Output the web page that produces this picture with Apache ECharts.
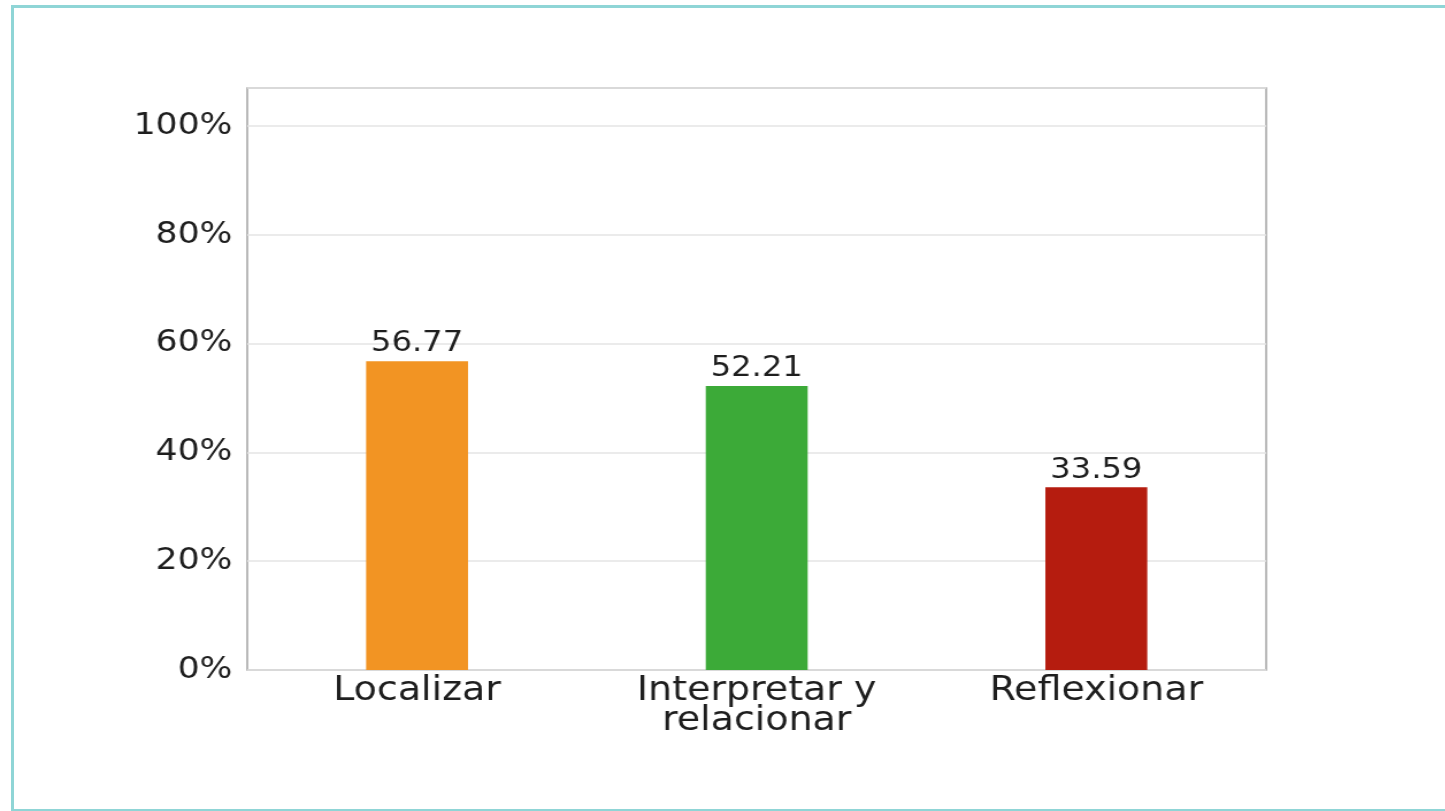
<!DOCTYPE html>
<html>
<head>
<meta charset="utf-8">
<script src="https://cdn.jsdelivr.net/npm/echarts@6/dist/echarts.min.js"></script>
<style>
  html, body { margin: 0; padding: 0; background: #fff; overflow: hidden; }
  #frame {
    position: absolute; left: 11px; top: 5px;
    width: 1434px; height: 807px;
    border: 3px solid #8fd5d6; border-right: none; box-sizing: border-box;
  }
  /* the source picture is stretched sideways, so draw narrower and scale */
  #chart {
    position: absolute; left: 0; top: 0;
    width: 1257px; height: 811px;
    transform: scaleX(1.15); transform-origin: 0 0;
  }
</style>
</head>
<body>
<div id="frame"></div>
<div id="chart"></div>
<script>
const categories = ['Localizar', 'Interpretar y\nrelacionar', 'Reflexionar']
const values = [56.77, 52.21, 33.59]
const barColors = ['#f29423', '#3caa38', '#b51c0f']
const yTicks = [0, 20, 40, 60, 80, 100]

const chart = echarts.init(document.getElementById('chart'))

chart.setOption({
  animation: false,
  grid: {
    left: 215,
    top: 88,
    width: 886,
    height: 582,
    show: true,
    borderColor: '#a3a3a3',
    borderWidth: 1.5,
    backgroundColor: '#fff'
  },
  xAxis: {
    type: 'category',
    data: categories,
    axisLine: { show: false },
    axisTick: { show: false },
    axisLabel: {
      color: '#1e1e1e',
      fontFamily: 'DejaVu Sans',
      fontSize: 33,
      lineHeight: 30,
      margin: 6
    }
  },
  yAxis: {
    type: 'value',
    min: 0,
    max: 107,
    interval: 20,
    axisLine: { show: false },
    axisTick: { show: false },
    splitLine: { lineStyle: { color: '#e4e4e4', width: 1.5 } },
    axisLabel: {
      color: '#1e1e1e',
      fontFamily: 'DejaVu Sans',
      fontSize: 30,
      margin: 13,
      formatter: v => (yTicks.indexOf(v) >= 0 ? v + '%' : '')
    }
  },
  series: [{
    type: 'bar',
    barWidth: '30%',
    data: values.map((v, i) => ({ value: v, itemStyle: { color: barColors[i] } })),
    label: {
      show: true,
      position: 'top',
      distance: 3,
      color: '#1e1e1e',
      fontFamily: 'DejaVu Sans',
      fontSize: 28,
      formatter: p => p.value.toFixed(2)
    }
  }]
})
</script>
</body>
</html>
